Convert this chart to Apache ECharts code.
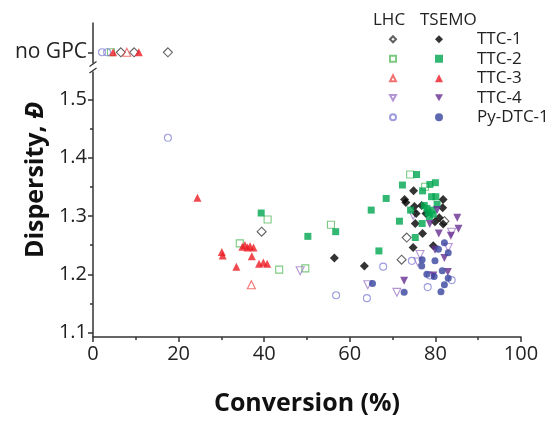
<!DOCTYPE html>
<html><head><meta charset="utf-8">
<script src="https://cdn.jsdelivr.net/npm/echarts@6/dist/echarts.min.js"></script>
<style>html,body{margin:0;padding:0;background:#fff}#c{width:552px;height:421px}</style>
</head><body><div id="c"></div>
<script>
// ---- axis ticks / labels ----
const xTicks = [0, 20, 40, 60, 80, 100];
const yTicks = [1.1, 1.2, 1.3, 1.4, 1.5];
const yMinorTicks = [1.15, 1.25, 1.35, 1.45];
const noGpcLabel = 'no GPC';
const groupNames = ['TTC-1', 'TTC-2', 'TTC-3', 'TTC-4', 'Py-DTC-1'];
const methodNames = ['LHC', 'TSEMO'];

// ---- data: [conversion %, dispersity] ----
const lhcTTC1 = [[39.4,1.273],[82.1,1.291],[73.3,1.263],[72.1,1.225]];
const tsemoTTC1 = [[56.4,1.228],[63.4,1.214],[74.9,1.343],[72.8,1.328],[73.1,1.323],[81.8,1.328],[76.8,1.318],[75.1,1.316],[81.7,1.314],[75.5,1.304],[77.8,1.304],[80.9,1.297],[79.9,1.290],[75.3,1.287],[81.8,1.286],[77.0,1.270],[74.8,1.246],[79.5,1.249]];
const lhcTTC2 = [[40.8,1.294],[34.3,1.253],[43.5,1.208],[49.6,1.210],[55.6,1.285],[74.1,1.371],[77.6,1.350]];
const tsemoTTC2 = [[39.3,1.305],[50.2,1.265],[56.7,1.273],[65.0,1.310],[66.8,1.240],[75.6,1.371],[72.3,1.353],[78.7,1.354],[80.0,1.357],[77.0,1.343],[68.5,1.330],[79.1,1.333],[80.1,1.333],[80.4,1.320],[74.2,1.310],[78.6,1.299],[71.6,1.291],[76.9,1.287],[75.3,1.263],[78.0,1.313],[79.2,1.310],[79.5,1.303],[78.3,1.306],[77.4,1.318]];
const lhcTTC3 = [[37.0,1.182]];
const tsemoTTC3 = [[24.4,1.331],[30.1,1.238],[30.3,1.232],[33.5,1.213],[34.9,1.247],[35.5,1.250],[36.1,1.246],[36.7,1.248],[37.5,1.246],[37.1,1.231],[38.8,1.218],[39.8,1.220],[40.7,1.218]];
const lhcTTC4 = [[48.4,1.206],[64.2,1.182],[74.8,1.301],[83.8,1.272],[83.0,1.246],[76.4,1.234],[75.9,1.221],[71.0,1.169]];
const tsemoTTC4 = [[80.4,1.310],[85.1,1.297],[78.7,1.286],[85.4,1.278],[80.8,1.270],[83.6,1.266],[79.9,1.242],[82.1,1.228],[79.5,1.198],[82.9,1.204],[72.7,1.189]];
const lhcPyDTC1 = [[17.5,1.434],[56.8,1.164],[64.0,1.159],[74.5,1.223],[67.8,1.213],[78.7,1.198],[83.8,1.190],[78.2,1.178]];
const tsemoPyDTC1 = [[65.3,1.184],[82.1,1.254],[80.7,1.243],[83.0,1.237],[76.9,1.225],[79.9,1.223],[76.8,1.214],[78.0,1.200],[79.7,1.196],[81.6,1.206],[83.0,1.193],[82.1,1.182],[81.3,1.170],[72.7,1.169]];

// conversions of runs without GPC result
const lhcTTC1NoGpc = [6.5, 9.6, 17.5];
const tsemoTTC1NoGpc = [];
const lhcTTC2NoGpc = [4.2];
const tsemoTTC2NoGpc = [];
const lhcTTC3NoGpc = [7.9];
const tsemoTTC3NoGpc = [4.7, 10.7];
const lhcTTC4NoGpc = [];
const tsemoTTC4NoGpc = [];
const lhcPyDTC1NoGpc = [2.1, 3.3];
const tsemoPyDTC1NoGpc = [];

// ---- styles ----
const FONT = 'Open Sans';
const INV_TRI = 'path://M0,0L10,0L5,9Z';
const symbols = ['diamond', 'rect', 'triangle', INV_TRI, 'circle'];
const sizes = [9, 7, 8, 8, 7];
const filledColors = ['#000000', '#00a650', '#ec1c24', '#662d91', '#36449f'];
const openColors = ['#3a3a3a', '#5cbc62', '#f0504f', '#a07cc8', '#8585d6'];

const mainData = [[lhcTTC1, tsemoTTC1], [lhcTTC2, tsemoTTC2], [lhcTTC3, tsemoTTC3], [lhcTTC4, tsemoTTC4], [lhcPyDTC1, tsemoPyDTC1]];
const noGpcData = [[lhcTTC1NoGpc, tsemoTTC1NoGpc], [lhcTTC2NoGpc, tsemoTTC2NoGpc], [lhcTTC3NoGpc, tsemoTTC3NoGpc], [lhcTTC4NoGpc, tsemoTTC4NoGpc], [lhcPyDTC1NoGpc, tsemoPyDTC1NoGpc]];

function styleFor(g, m) {
  return m === 0
    ? { color: 'rgba(255,255,255,0)', borderColor: openColors[g], borderWidth: 1.1 }
    : { color: filledColors[g], borderWidth: 0 };
}

const series = [];
for (let m = 0; m < 2; m++) {
  for (let g = 0; g < 5; g++) {
    const name = methodNames[m] + ' ' + groupNames[g];
    const common = {
      type: 'scatter', name,
      symbol: symbols[g], symbolSize: sizes[g],
      itemStyle: styleFor(g, m), emphasis: { disabled: true }, z: 2 + m
    };
    series.push(Object.assign({}, common, { xAxisIndex: 0, yAxisIndex: 0, data: mainData[g][m] }));
    series.push(Object.assign({}, common, { xAxisIndex: 1, yAxisIndex: 2, data: noGpcData[g][m].map(c => [c, 0]) }));
  }
}

const axisColor = '#333';
const option = {
  animation: false,
  textStyle: { fontFamily: FONT },
  grid: [
    { left: 93, right: 31, top: 68, bottom: 80 },
    { left: 93, right: 31, top: 23, height: 45 }
  ],
  xAxis: [
    {
      gridIndex: 0, type: 'value', min: 0, max: 100, interval: 20,
      axisLine: { onZero: false, lineStyle: { color: axisColor, width: 1.5 } },
      axisTick: { length: 5, lineStyle: { color: axisColor, width: 1.5 } },
      minorTick: { show: true, splitNumber: 2, length: 3, lineStyle: { color: axisColor, width: 1.5 } },
      splitLine: { show: false },
      axisLabel: { fontSize: 20, color: '#222', margin: 7, fontFamily: FONT },
      name: 'Conversion (%)', nameLocation: 'middle', nameGap: 54,
      nameTextStyle: { fontSize: 25, fontWeight: 'bold', color: '#111', fontFamily: FONT }
    },
    { gridIndex: 1, type: 'value', min: 0, max: 100, show: false }
  ],
  yAxis: [
    {
      gridIndex: 0, type: 'value', min: 1.0924, max: 1.5537, position: 'left',
      axisLine: { show: true, onZero: false, lineStyle: { color: axisColor, width: 1.5 } },
      axisTick: { show: true, length: 5, customValues: yTicks, lineStyle: { color: axisColor, width: 1.5 } },
      axisLabel: { customValues: yTicks, fontSize: 20, color: '#222', margin: 6, fontFamily: FONT,
        formatter: v => Number(v).toFixed(1) },
      splitLine: { show: false }
    },
    {
      gridIndex: 0, type: 'value', min: 1.0924, max: 1.5537, position: 'left', offset: 0,
      axisLine: { show: false, onZero: false },
      axisTick: { show: true, length: 3, customValues: yMinorTicks, lineStyle: { color: axisColor, width: 1.5 } },
      axisLabel: { show: false },
      splitLine: { show: false }
    },
    {
      gridIndex: 1, type: 'value', min: -0.5, max: 0.93, position: 'left',
      axisLine: { show: true, onZero: false, lineStyle: { color: axisColor, width: 1.5 } },
      axisTick: { show: true, length: 5, customValues: [0], lineStyle: { color: axisColor, width: 1.5 } },
      axisLabel: { customValues: [0], fontSize: 21, color: '#222', margin: 6, fontFamily: FONT,
        formatter: () => noGpcLabel },
      splitLine: { show: false }
    }
  ],
  legend: [
    {
      data: groupNames.map((n, g) => ({ name: methodNames[0] + ' ' + n, icon: symbols[g] })),
      orient: 'vertical', left: 389, top: 29.5, padding: 0, itemWidth: 6, itemHeight: 6, itemGap: 0,
      selectedMode: false, formatter: () => ' ',
      textStyle: { fontSize: 17, lineHeight: 19.5, fontFamily: FONT }
    },
    {
      data: groupNames.map((n, g) => ({ name: methodNames[1] + ' ' + n, icon: symbols[g] })),
      orient: 'vertical', left: 435, top: 29.5, padding: 0, itemWidth: 8, itemHeight: 8, itemGap: 0,
      selectedMode: false, formatter: n => n.replace(methodNames[1] + ' ', ''),
      textStyle: { fontSize: 17, lineHeight: 19.5, color: '#222', fontFamily: FONT, padding: [0, 0, 0, 29] }
    }
  ],
  graphic: [
    { type: 'text', left: 373, top: 12, style: { text: methodNames[0], fontSize: 17, fill: '#222', fontFamily: FONT } },
    { type: 'text', left: 420, top: 12, style: { text: methodNames[1], fontSize: 17, fill: '#222', fontFamily: FONT } },
    {
      type: 'text', x: 36, y: 180, rotation: Math.PI / 2,
      style: {
        text: 'Dispersity, {it|Đ}', fontSize: 25, fontWeight: 'bold', fill: '#111', fontFamily: FONT,
        align: 'center', verticalAlign: 'middle',
        rich: { it: { fontStyle: 'italic', fontWeight: 'bold', fontSize: 25, fill: '#111', fontFamily: FONT } }
      }
    },
    { type: 'rect', shape: { x: 90.5, y: 63.5, width: 5, height: 8 }, style: { fill: '#fff' }, z: 50 },
    { type: 'line', shape: { x1: 89.5, y1: 66.5, x2: 96.5, y2: 61.5 }, style: { stroke: axisColor, lineWidth: 1.3 }, z: 51 },
    { type: 'line', shape: { x1: 89.5, y1: 73, x2: 96.5, y2: 68 }, style: { stroke: axisColor, lineWidth: 1.3 }, z: 51 }
  ],
  series
};
const chart = echarts.init(document.getElementById('c'), null, { renderer: 'canvas' });
chart.setOption(option);
</script></body></html>
